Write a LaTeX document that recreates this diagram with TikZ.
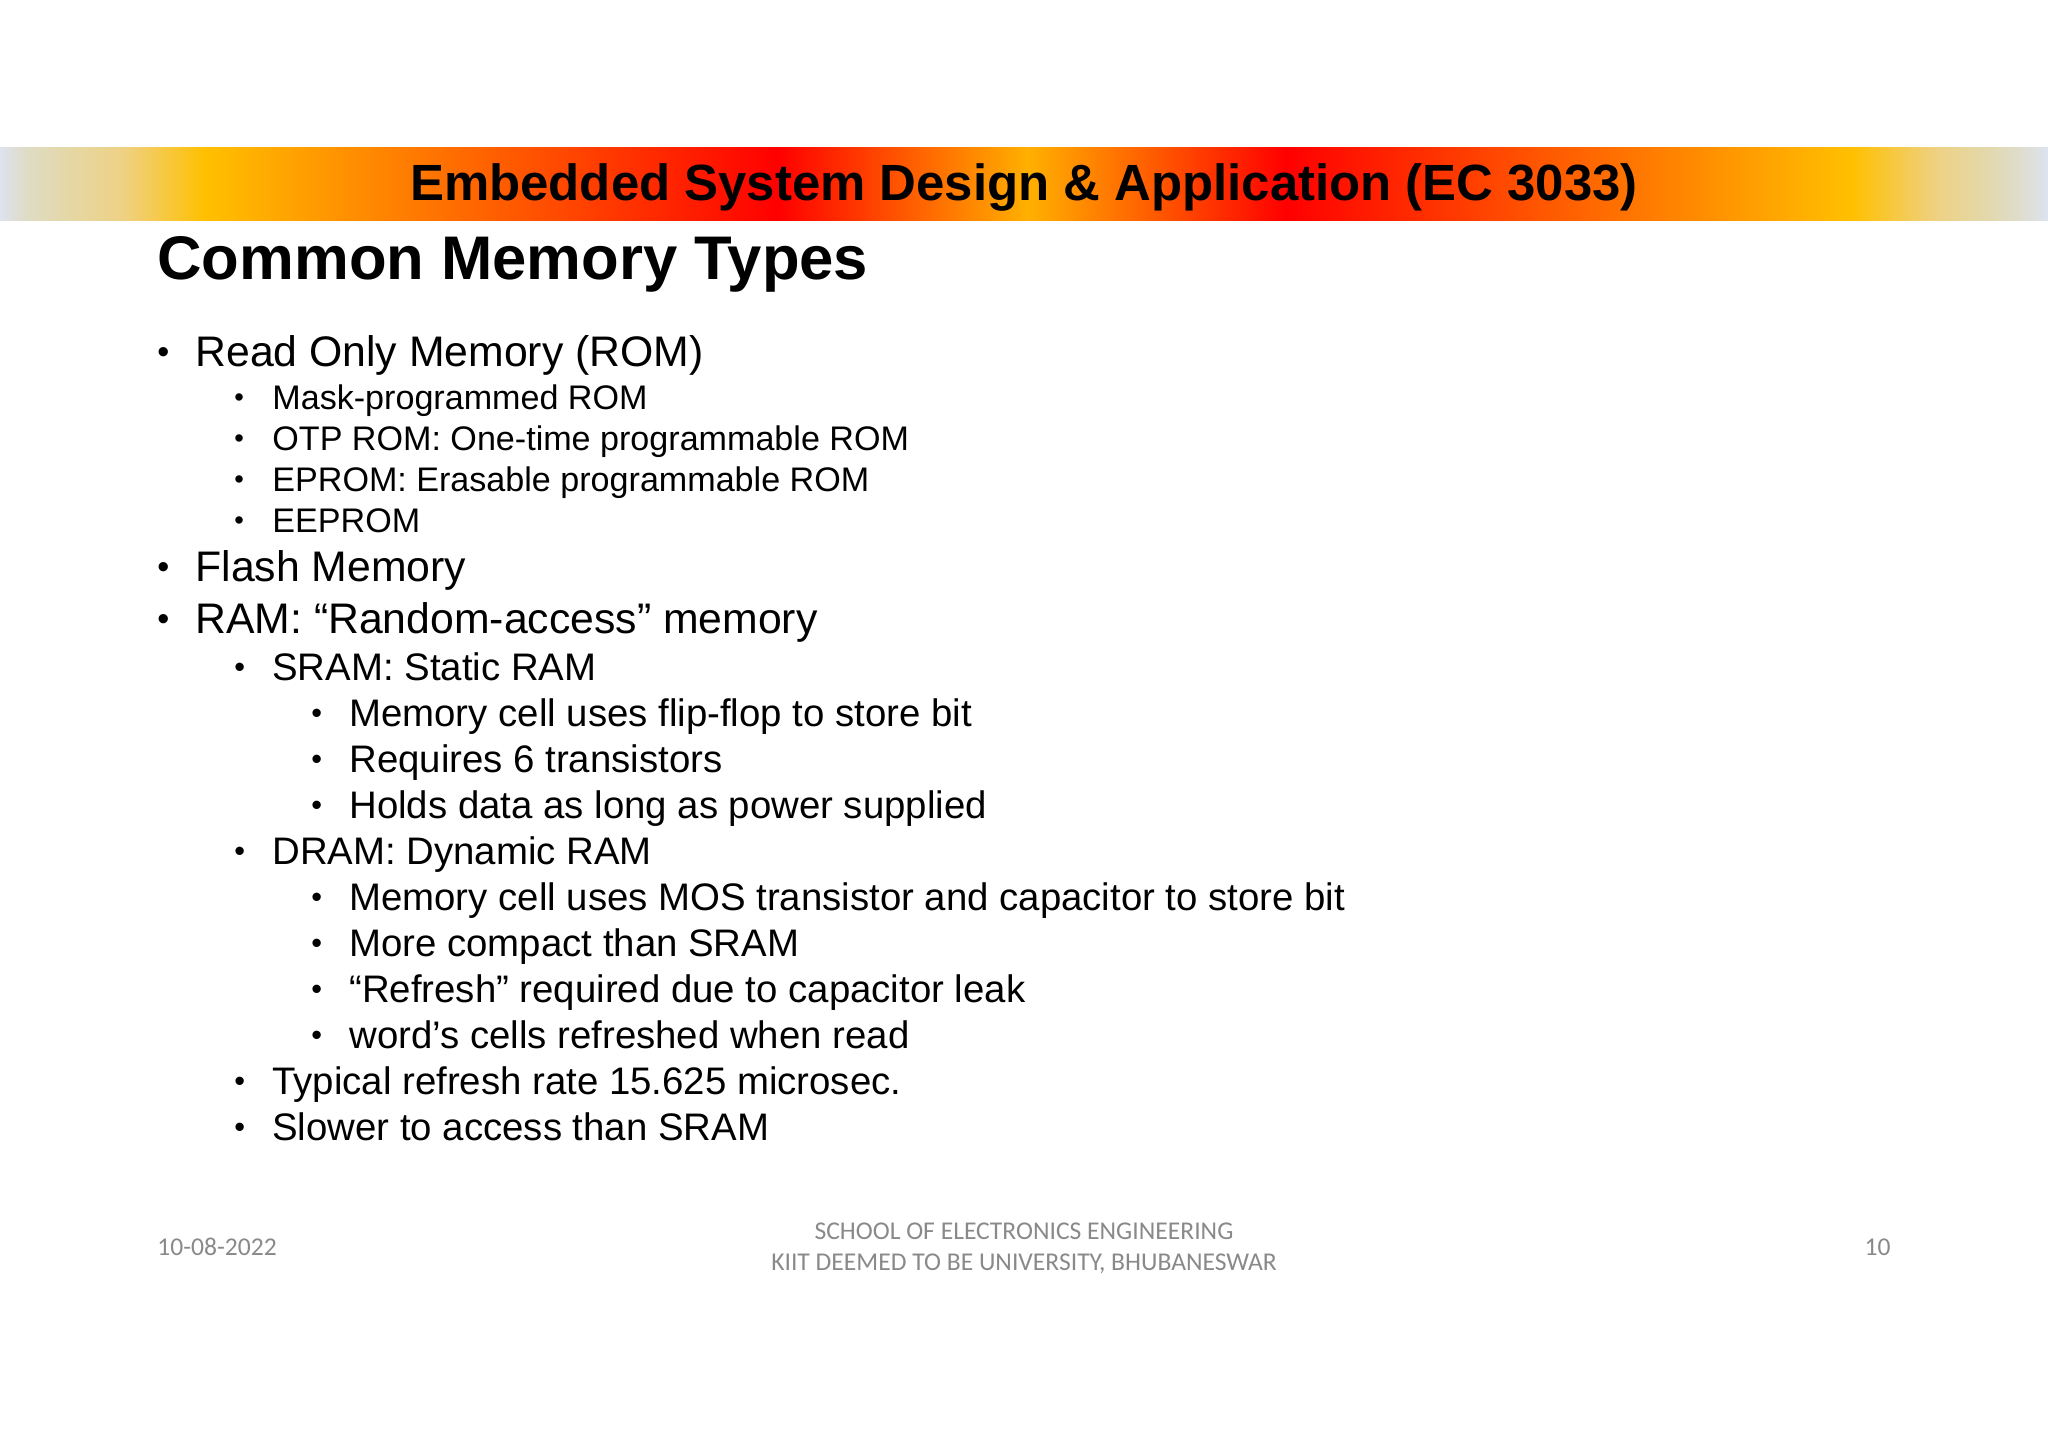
\documentclass[tikz,border=0pt]{standalone}
\usepackage{fontspec}
\setmainfont{Liberation Sans}
\newfontfamily\footfont{Carlito}
\definecolor{footgray}{HTML}{898989}
\definecolor{bandA}{HTML}{DDE3F0}
\definecolor{bandB}{HTML}{DFDCC8}
\definecolor{bandH}{HTML}{E4D8A8}
\definecolor{bandI}{HTML}{EED184}
\definecolor{bandC}{HTML}{FFC000}
\definecolor{bandE}{HTML}{FF0000}
\definecolor{bandG}{HTML}{FFB000}
\pgfdeclarehorizontalshading{bandshade}{100bp}{%
    color(0bp)=(bandA); color(25bp)=(bandA); color(25.6bp)=(bandB);
    color(26.6bp)=(bandH); color(28bp)=(bandI); color(30bp)=(bandC);
    color(44bp)=(bandE); color(50.1bp)=(bandG);
    color(56.4bp)=(bandE); color(70.2bp)=(bandC);
    color(72.3bp)=(bandI); color(73.4bp)=(bandH); color(74.2bp)=(bandB); color(75bp)=(bandA); color(100bp)=(bandA)}
\tikzset{
    band/.style={shading=bandshade, minimum width=1024pt, minimum height=36.5pt, inner sep=0pt},
    bandtext/.style={inner sep=0pt, font=\fontsize{25.45pt}{29pt}\selectfont\bfseries},
    heading/.style={anchor=base west, inner sep=0pt, font=\fontsize{30.8pt}{34pt}\selectfont\bfseries},
    lone/.style={anchor=base west, inner sep=0pt, font=\fontsize{21.37pt}{25pt}\selectfont},
    ltwo/.style={anchor=base west, inner sep=0pt, font=\fontsize{19.18pt}{23pt}\selectfont},
    lsub/.style={anchor=base west, inner sep=0pt, font=\fontsize{17.05pt}{20pt}\selectfont},
    foot/.style={inner sep=0pt, text=footgray, font=\fontsize{12.8pt}{15.5pt}\footfont, align=center},
    }
\newcommand{\bul}[1]{\makebox[#1pt][l]{\raisebox{0.07em}{\scalebox{0.8}{•}}}}

\begin{document}
\begin{tikzpicture}[x=0.5pt,y=-0.5pt]
\useasboundingbox (0,0) rectangle (2048,1447);
% banner and slide title
\node[band] (banner) at (1024,183.5) {};
\node[bandtext] (bannertext) at (1024,187) {Embedded System Design \& Application (EC 3033)};
\node[heading] (title) at (157,279) {Common Memory Types};
% ROM
\node[lone] (rom) at (157,366) {\bul{19}Read Only Memory (ROM)};
\node[lsub] (mask) at (234,409) {\bul{19}Mask-programmed ROM};
\node[lsub] (otp) at (234,450) {\bul{19}OTP ROM: One-time programmable ROM};
\node[lsub] (eprom) at (234,491) {\bul{19}EPROM: Erasable programmable ROM};
\node[lsub] (eeprom) at (234,532) {\bul{19}EEPROM};
% flash, RAM
\node[lone] (flash) at (157,581) {\bul{19}Flash Memory};
\node[lone] (ram) at (157,633) {\bul{19}RAM: “Random-access” memory};
% SRAM
\node[ltwo] (sram) at (234,680) {\bul{19}SRAM: Static RAM};
\node[ltwo] (flipflop) at (311,726) {\bul{19}Memory cell uses flip-flop to store bit};
\node[ltwo] (six) at (311,772) {\bul{19}Requires 6 transistors};
\node[ltwo] (holds) at (311,818) {\bul{19}Holds data as long as power supplied};
% DRAM
\node[ltwo] (dram) at (234,864) {\bul{19}DRAM: Dynamic RAM};
\node[ltwo] (mos) at (311,910) {\bul{19}Memory cell uses MOS transistor and capacitor to store bit};
\node[ltwo] (compact) at (311,956) {\bul{19}More compact than SRAM};
\node[ltwo] (refresh) at (311,1002) {\bul{19}“Refresh” required due to capacitor leak};
\node[ltwo] (word) at (311,1048) {\bul{19}word’s cells refreshed when read};
\node[ltwo] (rate) at (234,1094) {\bul{19}Typical refresh rate 15.625 microsec.};
\node[ltwo] (slower) at (234,1140) {\bul{19}Slower to access than SRAM};
% footer
\node[foot, anchor=west] (date) at (157,1247) {10-08-2022};
\node[foot] (school) at (1024,1248) {SCHOOL OF ELECTRONICS ENGINEERING\\KIIT DEEMED TO BE UNIVERSITY, BHUBANESWAR};
\node[foot, anchor=east] (page) at (1891,1247) {10};
\end{tikzpicture}
\end{document}
